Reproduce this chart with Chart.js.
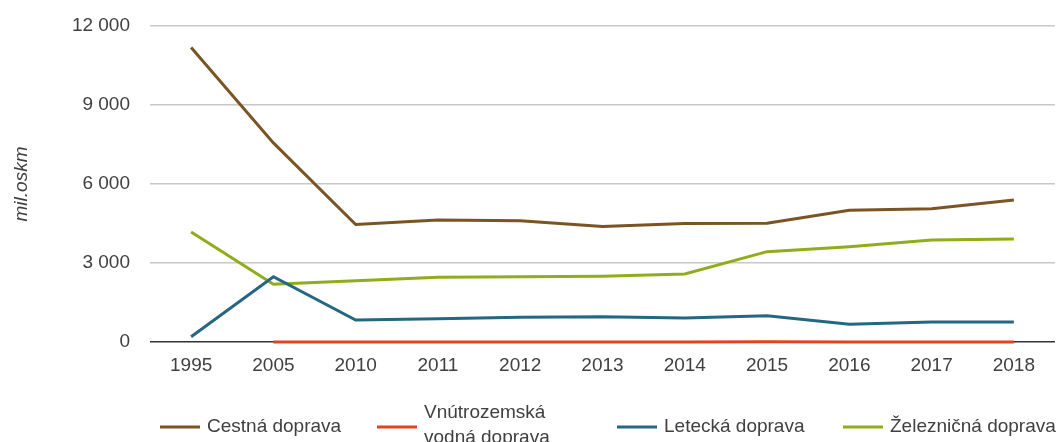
<!DOCTYPE html>
<html lang="sk">
  <head>
    <meta charset="UTF-8" />
    <title>Výkony osobnej dopravy</title>
    <script src="https://cdn.jsdelivr.net/npm/chart.js"></script>
    <style>
      html, body { margin: 0; padding: 0; background: #fff; }
      #wrap { width: 1059px; height: 442px; position: relative; }
    </style>
  </head>
  <body>
    <div id="wrap"><canvas id="chart"></canvas></div>

    <script>
      const years = ["1995", "2005", "2010", "2011", "2012", "2013", "2014", "2015", "2016", "2017", "2018"];
      const cestna = [11180, 7560, 4460, 4630, 4600, 4390, 4500, 4510, 5000, 5060, 5390];
      const vodna = [null, 4, 2, 2, 2, 3, 4, 5, 3, 3, 2];
      const letecka = [200, 2480, 835, 885, 940, 960, 910, 1000, 670, 760, 760];
      const zeleznicna = [4180, 2190, 2330, 2460, 2480, 2500, 2580, 3430, 3620, 3870, 3910];
      const yTicks = [0, 3000, 6000, 9000, 12000];

      const seriesNames = ["Cestná doprava", ["Vnútrozemská", "vodná doprava"], "Letecká doprava", "Železničná doprava"];
      const seriesColors = ["#7b5424", "#e0441e", "#256782", "#8fad1b"];
      const legendX = [160, 377, 617, 843];

      const textColor = "#404040";
      const font = "Liberation Sans, Arial, sans-serif";

      function fmt(v) {
        return String(v).replace(/\B(?=(\d{3})+(?!\d))/g, " ");
      }

      // legend drawn by hand so the two-line label fits like the original
      const legendPlugin = {
        id: "bottomLegend",
        afterDraw(chart) {
          const ctx = chart.ctx;
          ctx.save();
          ctx.font = "19px " + font;
          ctx.textBaseline = "middle";
          ctx.fillStyle = textColor;
          chart.data.datasets.forEach((ds, i) => {
            const x = legendX[i];
            const y = 427;
            ctx.strokeStyle = ds.borderColor;
            ctx.lineWidth = 3;
            ctx.beginPath();
            ctx.moveTo(x, y);
            ctx.lineTo(x + 40, y);
            ctx.stroke();
            const label = seriesNames[i];
            if (Array.isArray(label)) {
              ctx.fillText(label[0], x + 47, 413);
              ctx.fillText(label[1], x + 47, 438);
            } else {
              ctx.fillText(label, x + 47, y);
            }
          });
          ctx.restore();
        },
      };

      const makeSet = (i, data) => ({
        label: Array.isArray(seriesNames[i]) ? seriesNames[i].join(" ") : seriesNames[i],
        data,
        borderColor: seriesColors[i],
        backgroundColor: seriesColors[i],
        borderWidth: 3,
        pointRadius: 0,
        tension: 0,
        fill: false,
        clip: false,
      });

      new Chart(document.getElementById("chart"), {
        type: "line",
        data: {
          labels: years,
          datasets: [
            makeSet(0, cestna),
            makeSet(1, vodna),
            makeSet(2, letecka),
            makeSet(3, zeleznicna),
          ],
        },
        options: {
          responsive: true,
          maintainAspectRatio: false,
          animation: false,
          layout: { padding: { top: 26, right: 4, left: 0, bottom: 0 } },
          plugins: {
            legend: { display: false },
            tooltip: { enabled: false },
          },
          scales: {
            x: {
              offset: true,
              grid: { display: false },
              border: { display: false },
              ticks: {
                color: textColor,
                font: { family: font, size: 19 },
                padding: 4,
                maxRotation: 0,
              },
              afterFit: (s) => { s.height = 100; },
            },
            y: {
              min: 0,
              max: 12000,
              afterBuildTicks: (s) => { s.ticks = yTicks.map((v) => ({ value: v })); },
              grid: {
                drawTicks: false,
                color: (c) => (c.tick && c.tick.value === 0 ? "#333333" : "#c8c8c8"),
                lineWidth: (c) => (c.tick && c.tick.value === 0 ? 1.6 : 1.4),
              },
              border: { display: false },
              ticks: {
                color: textColor,
                font: { family: font, size: 19 },
                padding: 20,
                callback: (v) => fmt(v),
              },
              title: {
                display: true,
                text: "mil.oskm",
                color: textColor,
                font: { family: font, size: 19, style: "italic" },
                padding: { top: 10, bottom: 0 },
              },
              afterFit: (s) => {
                s.width = 150;
                s.paddingTop = 0;
                s.paddingBottom = 0;
              },
            },
          },
        },
        plugins: [legendPlugin],
      });
    </script>
  </body>
</html>
